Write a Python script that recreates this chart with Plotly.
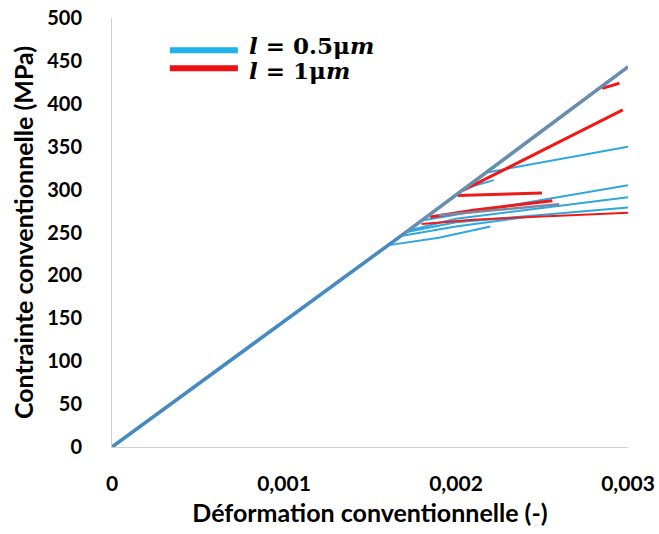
import plotly.graph_objects as go

# ---- data ----
main_strain = [0.0, 0.0017, 0.003]
main_stress = [0.0, 249, 443]

blue_branches = [
    ([0.00218, 0.0030], [320, 350]),
    ([0.0018, 0.0030], [264, 305]),
    ([0.00172, 0.0020, 0.0030], [252, 266, 291]),
    ([0.0017, 0.0020, 0.0030], [250, 262, 279]),
    ([0.0016, 0.0019, 0.0022], [235, 244, 257]),
    ([0.00168, 0.0020, 0.00241], [246, 257, 268]),
    ([0.00208, 0.00222], [303, 311]),
]
red_thick = [
    ([0.00285, 0.00295], [418, 424]),
    ([0.00204, 0.00297], [299, 393]),
    ([0.00201, 0.0025], [293, 296]),
    ([0.00185, 0.0021, 0.00256], [268, 276, 287]),
]
red_thin = [
    ([0.0018, 0.0021, 0.0030], [260, 265, 273]),
]
gray_branch = ([0.0019, 0.0026], [270, 283])

x_ticks = [0, 0.001, 0.002, 0.003]
x_ticktext = ["0", "0,001", "0,002", "0,003"]
y_ticks = list(range(0, 501, 50))

BLUE = "#2ea6de"
RED = "#ee1a1a"
GRAY = "#7d86a3"

fig = go.Figure()

for xs, ys in blue_branches:
    fig.add_trace(go.Scatter(x=xs, y=ys, mode="lines",
                             line=dict(color=BLUE, width=2), showlegend=False))
for xs, ys in red_thin:
    fig.add_trace(go.Scatter(x=xs, y=ys, mode="lines",
                             line=dict(color=RED, width=2), showlegend=False))
for xs, ys in red_thick:
    fig.add_trace(go.Scatter(x=xs, y=ys, mode="lines",
                             line=dict(color=RED, width=3), showlegend=False))
fig.add_trace(go.Scatter(x=gray_branch[0], y=gray_branch[1], mode="lines",
                         line=dict(color=GRAY, width=2.5), showlegend=False))

# main elastic line: blue under, gray-blue over
fig.add_trace(go.Scatter(x=main_strain, y=main_stress, mode="lines",
                         line=dict(color=BLUE, width=3.5), showlegend=False))
fig.add_trace(go.Scatter(x=main_strain[:2], y=main_stress[:2], mode="lines",
                         line=dict(color="#4f86bd", width=3), showlegend=False))
fig.add_trace(go.Scatter(x=main_strain[1:], y=main_stress[1:], mode="lines",
                         line=dict(color=GRAY, width=3), opacity=0.9,
                         showlegend=False))

# legend drawn manually (long thick keys as in the reference)
legend_items = [("<b><i>l</i> = 0.5μ<i>m</i></b>", "#1fb1ea", 0.925, 0.937),
                ("<b><i>l</i> = 1μ<i>m</i></b>", "#ee1111", 0.883, 0.878)]
for label, col, ykey, ytxt in legend_items:
    fig.add_shape(type="line", xref="paper", yref="paper",
                  x0=0.112, x1=0.244, y0=ykey, y1=ykey,
                  line=dict(color=col, width=6))
    fig.add_annotation(xref="paper", yref="paper", x=0.262, y=ytxt,
                       text=label, showarrow=False, xanchor="left",
                       yanchor="middle",
                       font=dict(family="DejaVu Serif", size=23, color="black"))

fig.update_layout(
    width=659, height=534,
    margin=dict(l=112, r=31, t=18, b=87),
    paper_bgcolor="white", plot_bgcolor="white",
    font=dict(family="Lato", size=17, color="black"),
    showlegend=False,
    xaxis=dict(range=[0, 0.003], tickvals=x_ticks, ticktext=x_ticktext,
               automargin=False, ticklabeloverflow="allow",
               showgrid=False, zeroline=False, showline=True,
               linecolor="#d0d0d0", linewidth=1, ticks="",
               ticklabelstandoff=18,
               tickfont=dict(family="Lato", size=21, color="black", weight="bold"),
               title=dict(text="<b>Déformation conventionnelle (-)</b>",
                          font=dict(family="Lato", size=25), standoff=10)),
    yaxis=dict(range=[0, 500], tickvals=y_ticks,
               automargin=False, ticklabeloverflow="allow",
               showgrid=False, zeroline=False, showline=True,
               linecolor="#d0d0d0", linewidth=1, ticks="",
               ticklabelstandoff=25,
               tickfont=dict(family="Lato", size=20, color="black", weight="bold"),
               title=dict(text="<b>Contrainte conventionnelle (MPa)</b>",
                          font=dict(family="Lato", size=25), standoff=6)),
)

fig.write_html("out.html",
               config={"displayModeBar": False},
               post_script="document.body.style.margin='0';"
                           "document.body.style.overflow='hidden';")
